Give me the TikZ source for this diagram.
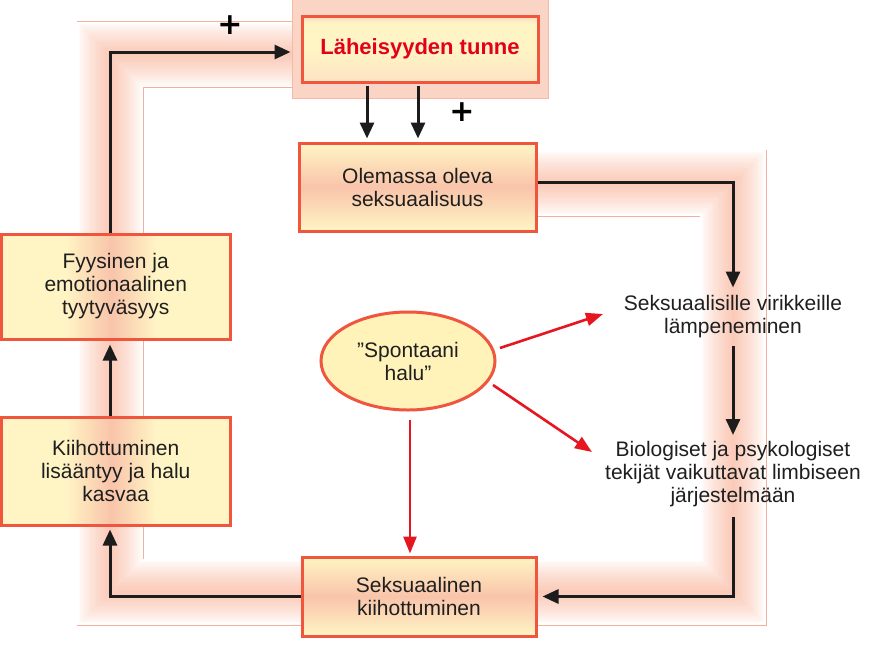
\documentclass[tikz,border=0pt]{standalone}
\usepackage{fontspec}
\setmainfont{Liberation Sans}
\newfontfamily\plusfont{DejaVu Sans}
\usetikzlibrary{arrows.meta,shapes.geometric}
\definecolor{bandsalmon}{RGB}{251,202,184}
\definecolor{bandedge}{RGB}{244,176,156}
\definecolor{boxyellow}{RGB}{255,245,196}
\definecolor{boxsalmon}{RGB}{249,196,170}
\definecolor{boxborder}{RGB}{240,86,62}
\definecolor{arrowblack}{RGB}{28,28,28}
\definecolor{arrowred}{RGB}{230,22,32}
\definecolor{titlered}{RGB}{226,0,26}
\definecolor{ellfill}{RGB}{255,243,186}
\definecolor{lahbgcol}{RGB}{250,212,196}
\definecolor{lahbgedge}{RGB}{244,186,166}
\definecolor{lahpink}{RGB}{252,214,196}
\pgfdeclarehorizontalshading{leftbox}{100bp}{color(0bp)=(boxyellow); color(39bp)=(boxyellow); color(49bp)=(boxsalmon); color(59bp)=(boxyellow); color(100bp)=(boxyellow)}
\pgfdeclareverticalshading{lahbox}{100bp}{color(0bp)=(lahpink); color(25bp)=(lahpink!60!boxyellow); color(50bp)=(boxyellow); color(70bp)=(boxyellow); color(75bp)=(lahpink); color(100bp)=(lahpink)}
\tikzset{
  box/.style={draw=boxborder, line width=3pt, align=center, inner sep=0pt,
    font=\fontsize{21}{23}\selectfont, text=black!88},
  hbox/.style={box, top color=boxyellow, bottom color=boxyellow, middle color=boxsalmon},
  vbox/.style={box, shade, shading=leftbox},
  plain/.style={align=center, inner sep=0pt, font=\fontsize{21}{23}\selectfont, text=black!88},
  arr/.style={draw=arrowblack, line width=3pt, -{Triangle[length=16pt,width=14pt]}},
  redarr/.style={draw=arrowred, line width=2.6pt, -{Triangle[length=17pt,width=13pt]}},
  plussign/.style={inner sep=0pt, font=\plusfont\bfseries\fontsize{30}{30}\selectfont},
  bandline/.style={line join=miter, line cap=butt}
}
\begin{document}
\begin{tikzpicture}[x=1pt,y=-1pt]
\useasboundingbox (0,0) rectangle (879,649);
\fill[white] (0,0) rectangle (879,649);
% glowing band
\coordinate (b1) at (528,183);
\coordinate (b2) at (733,183);
\coordinate (b3) at (733,592);
\coordinate (b4) at (110,592);
\coordinate (b5) at (110,54.5);
\coordinate (b6) at (300,54.5);
\draw[bandline, bandedge, line width=67pt] (b1)--(b2)--(b3)--(b4)--(b5)--(b6);
\draw[bandline, white, line width=65.5pt] (b1)--(b2)--(b3)--(b4)--(b5)--(b6);
\foreach \i in {0,...,25}{
  \pgfmathsetmacro\w{65-2.5*\i}
  \pgfmathtruncatemacro\p{100*(\i/25)^0.75}
  \draw[bandline, color=bandsalmon!\p!white, line width=\w pt] (b1)--(b2)--(b3)--(b4)--(b5)--(b6);
}
% background of top box
\draw[lahbgedge, line width=1pt, fill=lahbgcol] (292,-2) rectangle (548,98);
% nodes
\node[box, shade, shading=lahbox, minimum width=236pt, minimum height=66pt,
  text=titlered, font=\bfseries\fontsize{22}{24}\selectfont] (lah) at (420,49) {Läheisyyden tunne};
\node[hbox, minimum width=237pt, minimum height=88pt] (ole) at (417.5,187) {Olemassa oleva\\seksuaalisuus};
\node[vbox, minimum width=228.5pt, minimum height=105pt] (fyy) at (115.75,286.5) {Fyysinen ja\\emotionaalinen\\tyytyväsyys};
\node[vbox, minimum width=228.5pt, minimum height=108pt] (kii) at (115.75,471) {Kiihottuminen\\lisääntyy ja halu\\kasvaa};
\node[hbox, minimum width=234pt, minimum height=79pt] (sei) at (419,596.5) {Seksuaalinen\\kiihottuminen};
\node[ellipse, draw=boxborder, line width=3pt, fill=ellfill, minimum width=174pt, minimum height=98pt,
  inner sep=0pt, align=center, font=\fontsize{21}{23}\selectfont, text=black!88] (sp) at (408,361) {”Spontaani\\halu”};
\node[plain] (sek) at (733,317) {Seksuaalisille virikkeille\\lämpeneminen};
\node[plain] (bio) at (733,474) {Biologiset ja psykologiset\\tekijät vaikuttavat limbiseen\\järjestelmään};
\node[plussign] (p1) at (230,25) {+};
\node[plussign] (p2) at (462,112) {+};
% helper coordinates
\coordinate (lx) at (110,0);
\coordinate (ty) at (0,52);
\coordinate (ry) at (0,182.5);
\coordinate (a1) at (367,0);
\coordinate (a2) at (418,0);
\coordinate (r1s) at (500,348);
\coordinate (r1e) at (603,314);
\coordinate (r2s) at (493,385);
\coordinate (r2e) at (592,452);
\coordinate (r3s) at (410,420);
% connectors
\draw[arr, shorten >=10pt] (lx |- fyy.north) |- (lah.west |- ty);
\draw[arr, shorten <=2pt, shorten >=3pt] (lah.south -| a1) -- (ole.north -| a1);
\draw[arr, shorten <=2pt, shorten >=3pt] (lah.south -| a2) -- (ole.north -| a2);
\draw[arr, shorten >=8pt] (ole.east |- ry) -| (sek.north);
\draw[arr, shorten <=8pt, shorten >=6pt] (sek.south) -- (bio.north);
\draw[arr, shorten <=10pt, shorten >=5pt] (bio.south) |- (sei.east);
\draw[arr, shorten >=3pt] (sei.west) -| (lx |- kii.south);
\draw[arr, shorten >=4pt] (lx |- kii.north) -- (lx |- fyy.south);
\draw[redarr] (r1s) -- (r1e);
\draw[redarr] (r2s) -- (r2e);
\draw[redarr, shorten >=2pt] (r3s) -- (r3s |- sei.north);
\end{tikzpicture}
\end{document}
